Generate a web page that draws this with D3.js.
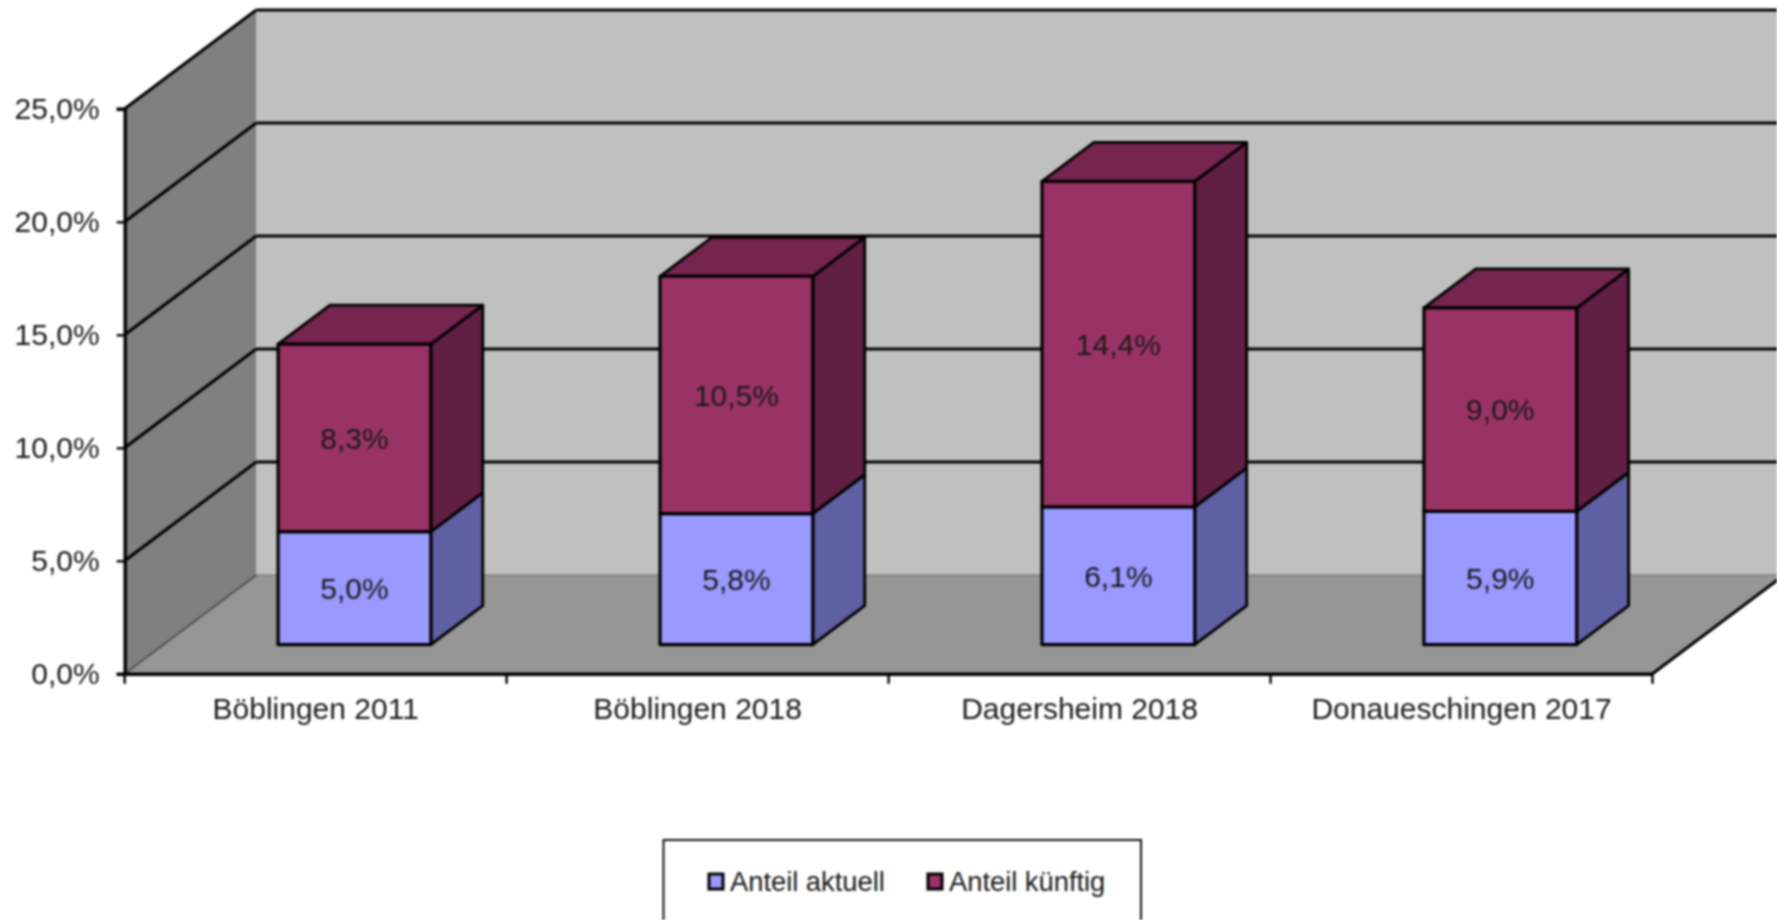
<!DOCTYPE html>
<html><head><meta charset="utf-8">
<script src="https://cdn.jsdelivr.net/npm/d3@7/dist/d3.min.js"></script>
<style>
html,body{margin:0;padding:0;background:#fff;overflow:hidden}
svg{display:block;filter:blur(0.8px)}
text{font-family:"Liberation Sans",Arial,sans-serif;fill:#1a1a1a}
</style></head><body>
<svg id="c" width="1777" height="920"></svg>
<script>
const categories=["Böblingen 2011","Böblingen 2018","Dagersheim 2018","Donaueschingen 2017"];
const anteilAktuell=[5.0,5.8,6.1,5.9];
const anteilKuenftig=[8.3,10.5,14.4,9.0];
const yTicks=[0,5,10,15,20,25];
const seriesNames=["Anteil aktuell","Anteil künftig"];
const colors={aktuell:"#9999ff",aktuellSide:"#5f5fa3",kuenftig:"#993366",kuenftigSide:"#611f43",kuenftigTop:"#752550"};

const svg=d3.select("#c");
const fmt=v=>v.toFixed(1).replace(".",",")+"%";
const x=d3.scaleBand().domain(categories).range([124.7,1652.5]);
const y=d3.scaleLinear().domain([0,25]).range([673.8,108.8]);
// depth of the 3D box: 0 = front plane, 1 = back wall
const dx=d3.scaleLinear().domain([0,1]).range([0,131.5]);
const dy=d3.scaleLinear().domain([0,1]).range([0,-98.8]);
const P=(px,py,d)=>[px+dx(d),py+dy(d)];
const poly=(pts,fill,stroke,sw)=>svg.append("polygon").attr("points",pts.map(p=>p.join(",")).join(" "))
  .attr("fill",fill).attr("stroke",stroke||"none").attr("stroke-width",sw||0).attr("stroke-linejoin","round");
const line=(a,b,sw,c)=>svg.append("line").attr("x1",a[0]).attr("y1",a[1]).attr("x2",b[0]).attr("y2",b[1])
  .attr("stroke",c||"#000").attr("stroke-width",sw);

const [x0,x1]=x.range(), yB=y(0), yT=y(25);
poly([P(x0,yB,1),P(x1,yB,1),P(x1,yT,1),P(x0,yT,1)],"#c0c0c0");
poly([P(x0,yB,0),P(x0,yB,1),P(x0,yT,1),P(x0,yT,0)],"#808080");
poly([P(x0,yB,0),P(x1,yB,0),P(x1,yB,1),P(x0,yB,1)],"#969696");
line(P(x0,yB,1),P(x1,yB,1),1.5,"#808080");
line(P(x0,yB,0),P(x0,yB,1),1.2,"#333");
yTicks.filter(t=>t>0).forEach(t=>{
  line(P(x0,y(t),0),P(x0,y(t),1),3);
  line(P(x0,y(t),1),P(x1,y(t),1),3);
});
line(P(x1,yB,0),P(x1,yB,1),3);

const bw=x.bandwidth()*0.4, d0=0.295, d1=0.69;
function box(cat,lo,hi,front,side,top){
  const l=x(cat)+(x.bandwidth()-bw)/2, r=l+bw, yl=y(lo), yh=y(hi);
  const o=P(0,0,d0), fx=o[0], fy=o[1];
  const A=[l+fx,yl+fy],B=[r+fx,yl+fy],C=[r+fx,yh+fy],D=[l+fx,yh+fy];
  const E=P(B[0]-fx,B[1]-fy,d1),F=P(C[0]-fx,C[1]-fy,d1),G=P(D[0]-fx,D[1]-fy,d1);
  poly([B,E,F,C],side,"#000",2.8);
  if(top) poly([D,C,F,G],top,"#000",2.8);
  poly([A,B,C,D],front,"#000",3.2);
  return [(l+r)/2+fx,(yl+yh)/2+fy];
}
categories.forEach((c,i)=>{
  const a=anteilAktuell[i], k=anteilKuenftig[i];
  const p1=box(c,0,a,colors.aktuell,colors.aktuellSide);
  const p2=box(c,a,a+k,colors.kuenftig,colors.kuenftigSide,colors.kuenftigTop);
  [[p1,a],[p2,k]].forEach(([p,v])=>svg.append("text").attr("x",p[0]).attr("y",p[1]).attr("dy","0.36em")
    .attr("text-anchor","middle").attr("font-size",30).text(fmt(v)));
});

// axes
const axL=svg.append("g").attr("transform",`translate(${x0},0)`)
  .call(d3.axisLeft(y).tickValues(yTicks).tickFormat(fmt).tickSize(8).tickPadding(17));
const axB=svg.append("g").attr("transform",`translate(0,${yB})`)
  .call(d3.axisBottom(x).tickValues(categories).tickSize(0).tickPadding(24));
[axL,axB].forEach(g=>{g.selectAll(".domain").attr("stroke","#000").attr("stroke-width",3.4);
  g.selectAll(".tick line").attr("stroke","#000").attr("stroke-width",2.4);
  g.selectAll("text").attr("font-size",30).attr("font-family","'Liberation Sans',Arial,sans-serif").attr("fill","#1a1a1a");});
axB.selectAll(".tick text").attr("dy","0.71em");
const bTicks=[...categories.map(c=>x(c)),x1];
svg.selectAll(".bt").data(bTicks).join("line").attr("class","bt").attr("x1",d=>d).attr("x2",d=>d)
  .attr("y1",yB).attr("y2",yB+10).attr("stroke","#000").attr("stroke-width",2.4);

// legend
svg.append("rect").attr("x",663.5).attr("y",840).attr("width",477.5).attr("height",120)
  .attr("fill","#fff").attr("stroke","#111").attr("stroke-width",2);
const legendX=d3.scaleOrdinal().domain(seriesNames).range([709,928]);
seriesNames.forEach((n,i)=>{
  const lx=legendX(n);
  svg.append("rect").attr("x",lx).attr("y",874).attr("width",14).attr("height",15)
    .attr("fill",i?colors.kuenftig:colors.aktuell).attr("stroke","#000").attr("stroke-width",3);
  svg.append("text").attr("x",lx+21).attr("y",881).attr("dy","0.35em").attr("font-size",27.3).text(n);
});
</script></body></html>
